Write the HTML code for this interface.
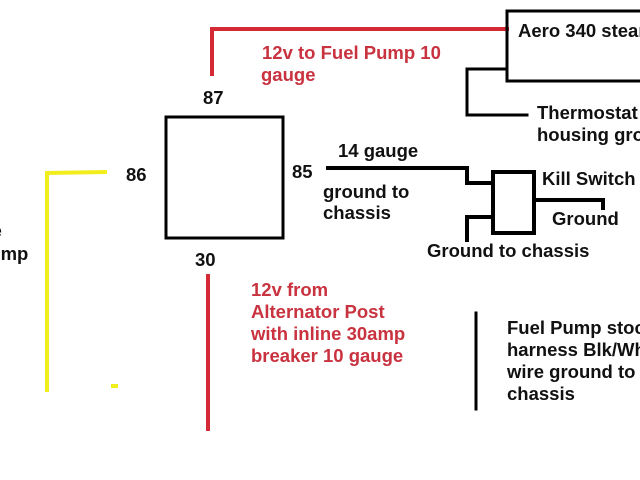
<!DOCTYPE html>
<html><head><meta charset="utf-8"><style>
html,body{margin:0;padding:0;background:#fff;width:640px;height:480px;overflow:hidden}
svg{display:block}
text{font-family:"Liberation Sans",sans-serif;font-weight:bold;font-size:18.5px;fill:#111}
.r{fill:#c9323f}
</style></head><body>
<svg width="640" height="480" viewBox="0 0 640 480">
<g fill="none" stroke-linecap="square">
<polyline points="212,74 212,29 507,29" stroke="#d42a35" stroke-width="4"/>
<line x1="208" y1="276" x2="208" y2="429" stroke="#d42a35" stroke-width="4"/>
<polyline points="105,172 47,173 47,390" stroke="#f2ee1e" stroke-width="4"/>
<line x1="113" y1="386" x2="116" y2="386" stroke="#f2ee1e" stroke-width="4"/>
<rect x="166" y="117" width="117" height="121" stroke="#000" stroke-width="3"/>
<rect x="507" y="11" width="140" height="70" stroke="#000" stroke-width="3"/>
<polyline points="507,69 467,69 467,115 527,115" stroke="#000" stroke-width="3"/>
<polyline points="328,168 467,168 467,183 493,183" stroke="#000" stroke-width="4"/>
<rect x="493" y="172" width="41" height="61" stroke="#000" stroke-width="4"/>
<polyline points="467,240 467,217 493,217" stroke="#000" stroke-width="4"/>
<polyline points="534,200 603,200 603,208" stroke="#000" stroke-width="4"/>
<line x1="476" y1="313" x2="476" y2="409" stroke="#000" stroke-width="3"/>
</g>
<text x="518" y="37">Aero 340 steam</text>
<text x="537" y="119">Thermostat</text>
<text x="537" y="141">housing ground</text>
<text class="r" x="262" y="59">12v to Fuel Pump 10</text>
<text class="r" x="261" y="81">gauge</text>
<text x="203" y="104">87</text>
<text x="126" y="181">86</text>
<text x="292" y="178">85</text>
<text x="195" y="266">30</text>
<text x="338" y="157">14 gauge</text>
<text x="323" y="198">ground to</text>
<text x="323" y="219">chassis</text>
<text x="542" y="185">Kill Switch</text>
<text x="552" y="225">Ground</text>
<text x="427" y="257">Ground to chassis</text>
<text class="r" x="251" y="296">12v from</text>
<text class="r" x="251" y="318">Alternator Post</text>
<text class="r" x="251" y="340">with inline 30amp</text>
<text class="r" x="251" y="362">breaker 10 gauge</text>
<text x="507" y="334">Fuel Pump stock</text>
<text x="507" y="356">harness Blk/Wht</text>
<text x="507" y="378">wire ground to</text>
<text x="507" y="400">chassis</text>
<text x="-32" y="237">Use</text>
<text x="-22" y="260">pump</text>
</svg>
</body></html>
